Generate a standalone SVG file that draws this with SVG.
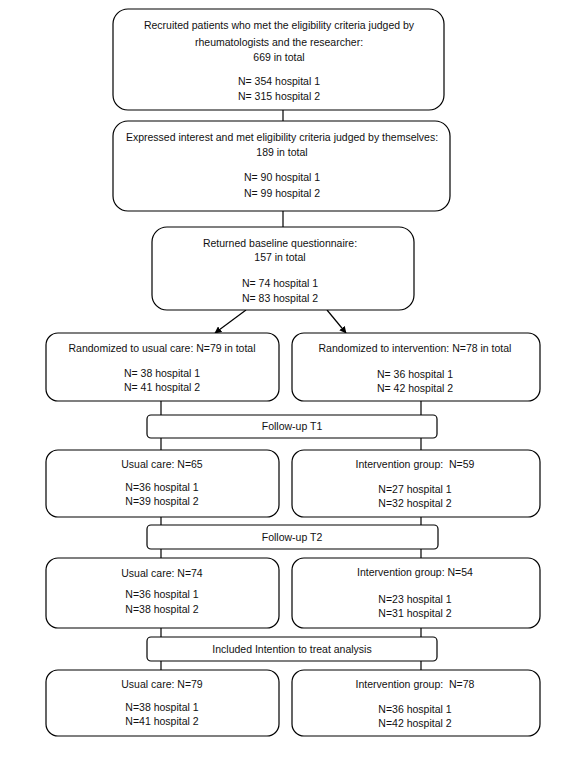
<svg xmlns="http://www.w3.org/2000/svg" width="583" height="758" viewBox="0 0 583 758">
<style>
.b{fill:#fff;stroke:#000;stroke-width:1.2}
.c line{stroke:#000;stroke-width:1.2}
text{font-family:"Liberation Sans",Arial,sans-serif;font-size:10.5px;fill:#111;text-anchor:middle;dominant-baseline:central}
</style>
<defs>
<marker id="ah" viewBox="0 0 10 10" refX="9" refY="5" markerWidth="7" markerHeight="7" orient="auto" markerUnits="userSpaceOnUse">
<path d="M0,0 L10,5 L0,10 z" fill="#000"/>
</marker>
</defs>
<rect width="583" height="758" fill="#fff"/>
<g id="connectors" class="c">
<line x1="283" y1="110" x2="283" y2="121"/>
<line x1="283" y1="211" x2="283" y2="227"/>
<line x1="246" y1="310" x2="215" y2="333" marker-end="url(#ah)"/>
<line x1="327" y1="310" x2="346" y2="333" marker-end="url(#ah)"/>
<line x1="161" y1="401" x2="161" y2="415"/>
<line x1="421" y1="401" x2="421" y2="415"/>
<line x1="161" y1="438" x2="161" y2="450"/>
<line x1="421" y1="438" x2="421" y2="450"/>
<line x1="161" y1="517" x2="161" y2="525"/>
<line x1="421" y1="517" x2="421" y2="525"/>
<line x1="161" y1="549" x2="161" y2="558"/>
<line x1="421" y1="549" x2="421" y2="558"/>
<line x1="161" y1="628" x2="161" y2="637"/>
<line x1="421" y1="628" x2="421" y2="637"/>
<line x1="161" y1="661" x2="161" y2="670"/>
<line x1="421" y1="661" x2="421" y2="670"/>
</g>
<g id="recruited">
<rect class="b" x="113" y="9" width="331" height="101" rx="15"/>
<text x="279" y="25">Recruited patients who met the eligibility criteria judged by</text>
<text x="279" y="42">rheumatologists and the researcher:</text>
<text x="279" y="57">669 in total</text>
<text x="279" y="81">N= 354 hospital 1</text>
<text x="279" y="96">N= 315 hospital 2</text>
</g>
<g id="expressed">
<rect class="b" x="113" y="121" width="337" height="90" rx="15"/>
<text x="282" y="137">Expressed interest and met eligibility criteria judged by themselves:</text>
<text x="282" y="152">189 in total</text>
<text x="282" y="177">N= 90 hospital 1</text>
<text x="282" y="193">N= 99 hospital 2</text>
</g>
<g id="baseline">
<rect class="b" x="152" y="227" width="262" height="83" rx="15"/>
<text x="280" y="243">Returned baseline questionnaire:</text>
<text x="280" y="257">157 in total</text>
<text x="280" y="283">N= 74 hospital 1</text>
<text x="280" y="298">N= 83 hospital 2</text>
</g>
<g id="rand-usual">
<rect class="b" x="46" y="333" width="233" height="68" rx="12"/>
<text x="162" y="348">Randomized to usual care: N=79 in total</text>
<text x="162" y="373">N= 38 hospital 1</text>
<text x="162" y="387">N= 41 hospital 2</text>
</g>
<g id="rand-intervention">
<rect class="b" x="292" y="333" width="248" height="68" rx="12"/>
<text x="415" y="348">Randomized to intervention: N=78 in total</text>
<text x="415" y="374">N= 36 hospital 1</text>
<text x="415" y="388">N= 42 hospital 2</text>
</g>
<g id="followup-t1">
<rect class="b" x="147" y="415" width="290" height="23" rx="4"/>
<text x="292" y="426">Follow-up T1</text>
</g>
<g id="t1-usual">
<rect class="b" x="46" y="450" width="233" height="67" rx="12"/>
<text x="162" y="464">Usual care: N=65</text>
<text x="162" y="487">N=36 hospital 1</text>
<text x="162" y="501">N=39 hospital 2</text>
</g>
<g id="t1-intervention">
<rect class="b" x="292" y="450" width="248" height="67" rx="12"/>
<text x="415" y="464" xml:space="preserve">Intervention group:  N=59</text>
<text x="415" y="489">N=27 hospital 1</text>
<text x="415" y="503">N=32 hospital 2</text>
</g>
<g id="followup-t2">
<rect class="b" x="147" y="525" width="291" height="24" rx="4"/>
<text x="292" y="537">Follow-up T2</text>
</g>
<g id="t2-usual">
<rect class="b" x="46" y="558" width="233" height="70" rx="12"/>
<text x="162" y="573">Usual care: N=74</text>
<text x="162" y="594">N=36 hospital 1</text>
<text x="162" y="609">N=38 hospital 2</text>
</g>
<g id="t2-intervention">
<rect class="b" x="292" y="558" width="248" height="70" rx="12"/>
<text x="415" y="572">Intervention group: N=54</text>
<text x="415" y="599">N=23 hospital 1</text>
<text x="415" y="613">N=31 hospital 2</text>
</g>
<g id="itt">
<rect class="b" x="147" y="637" width="290" height="24" rx="4"/>
<text x="292" y="649">Included Intention to treat analysis</text>
</g>
<g id="itt-usual">
<rect class="b" x="46" y="670" width="233" height="66" rx="12"/>
<text x="162" y="684">Usual care: N=79</text>
<text x="162" y="707">N=38 hospital 1</text>
<text x="162" y="721">N=41 hospital 2</text>
</g>
<g id="itt-intervention">
<rect class="b" x="292" y="670" width="248" height="66" rx="12"/>
<text x="415" y="684" xml:space="preserve">Intervention group:  N=78</text>
<text x="415" y="709">N=36 hospital 1</text>
<text x="415" y="723">N=42 hospital 2</text>
</g>
</svg>
